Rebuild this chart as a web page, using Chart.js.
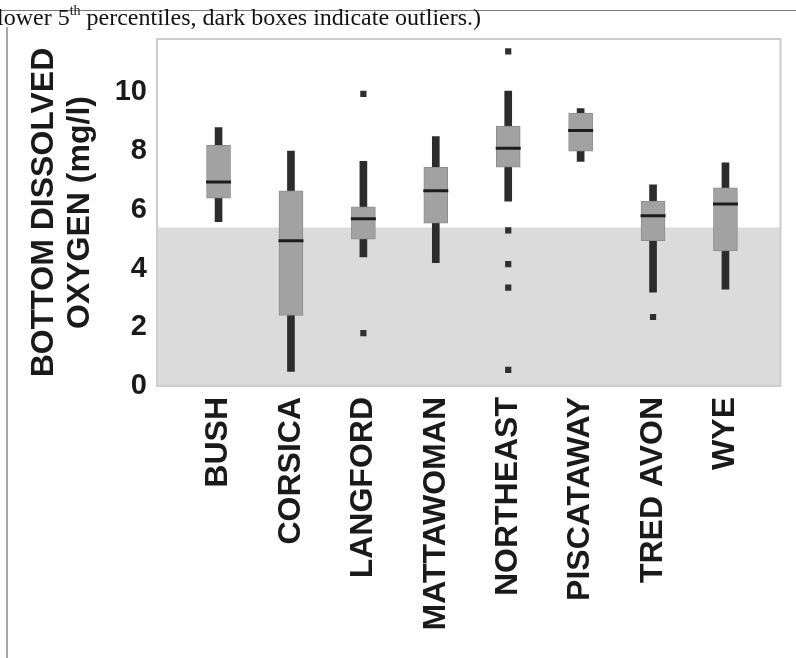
<!DOCTYPE html>
<html>
<head>
<meta charset="utf-8">
<script src="https://cdn.jsdelivr.net/npm/chart.js@4/dist/chart.umd.min.js"></script>
<style>
  html, body { margin: 0; padding: 0; background: #fff; }
  #wrap { position: relative; width: 796px; height: 658px; overflow: hidden; }
  #c { position: absolute; left: 0; top: 0; }
  .rule-h { position: absolute; left: 0; top: 10px; width: 796px; height: 1px; background: #7a7a7a; }
  .rule-v { position: absolute; left: 6px; top: 27px; width: 2px; height: 640px; background: #a8a8a8; }
  .caption { position: absolute; left: -3px; top: 2px; font-family: "Liberation Serif", "Times New Roman", serif;
             font-size: 24px; line-height: 30px; color: #111; white-space: nowrap; }
  .caption sup { font-size: 14px; line-height: 0; position: relative; top: -1px; }
</style>
</head>
<body>
<div id="wrap">
  <canvas id="c" width="796" height="658"></canvas>
  <div class="rule-h"></div>
  <div class="rule-v"></div>
  <div class="caption">lower 5<sup>th</sup> percentiles, dark boxes indicate outliers.)</div>
</div>
<script>
// Bottom dissolved oxygen (mg/l) by tributary
const categories  = ['BUSH', 'CORSICA', 'LANGFORD', 'MATTAWOMAN', 'NORTHEAST', 'PISCATAWAY', 'TRED AVON', 'WYE'];
const whiskerLow  = [5.6, 0.5, 4.4, 4.2, 6.3, 7.65, 3.2, 3.3];
const boxLow      = [6.4, 2.4, 5.0, 5.55, 7.45, 8.0, 4.95, 4.6];
const medians     = [6.95, 4.95, 5.7, 6.65, 8.1, 8.7, 5.8, 6.2];
const boxHigh     = [8.2, 6.65, 6.1, 7.45, 8.85, 9.3, 6.3, 6.75];
const whiskerHigh = [8.8, 8.0, 7.65, 8.5, 10.05, 9.45, 6.85, 7.6];
const outliers    = [[], [], [9.95, 1.8], [], [11.4, 5.3, 4.15, 3.35, 0.55], [], [2.35], []];
const yTicks      = [0, 2, 4, 6, 8, 10];
const lowDOLimit  = 5.4;   // top of the shaded low-oxygen band

const whiskerData = categories.map((_, i) => ({ x: i, y: [whiskerLow[i], whiskerHigh[i]] }));
const boxData     = categories.map((_, i) => ({ x: i, y: [boxLow[i], boxHigh[i]] }));
const medianData  = categories.map((_, i) => ({ x: i, y: medians[i] }));
const outlierData = [];
outliers.forEach((vals, i) => vals.forEach(v => outlierData.push({ x: i, y: v })));

// shaded band below the limit and a light frame round the plot area
const backdrop = {
  id: 'backdrop',
  beforeDatasetsDraw(chart) {
    const { ctx, chartArea: a, scales: { y } } = chart;
    const top = y.getPixelForValue(lowDOLimit);
    ctx.save();
    ctx.fillStyle = '#dbdbdb';
    ctx.fillRect(a.left, top, a.right - a.left, a.bottom - top);
    ctx.strokeStyle = '#cdcdcd';
    ctx.lineWidth = 2;
    ctx.strokeRect(a.left, a.top, a.right - a.left, a.bottom - a.top);
    ctx.restore();
  }
};

new Chart(document.getElementById('c'), {
  data: {
    datasets: [
      { type: 'bar', data: whiskerData, backgroundColor: '#2c2c2c', barThickness: 7, grouped: false, order: 4 },
      { type: 'bar', data: boxData, backgroundColor: '#a2a2a2', borderColor: '#8c8c8c', borderWidth: 1,
        borderSkipped: false, barThickness: 24, grouped: false, order: 3 },
      { type: 'scatter', data: medianData, pointStyle: 'line', pointRadius: 12.5, borderColor: '#1c1c1c',
        pointBorderWidth: 3, borderWidth: 3, order: 2 },
      { type: 'scatter', data: outlierData, pointStyle: 'rect', pointRadius: 4.4, backgroundColor: '#303030',
        borderWidth: 0, pointBorderWidth: 0, order: 1 }
    ]
  },
  options: {
    responsive: false,
    animation: false,
    events: [],
    layout: { padding: { left: 20, right: 13, top: 39, bottom: 0 } },
    plugins: { legend: { display: false }, tooltip: { enabled: false } },
    scales: {
      x: {
        type: 'linear',
        offset: false,
        min: -0.85,
        max: 7.76,
        grid: { display: false, drawTicks: false, offset: false },
        border: { display: false },
        afterFit(s) { s.height = 272; s.paddingLeft = 0; s.paddingRight = 0; },
        afterBuildTicks(s) { s.ticks = categories.map((_, i) => ({ value: i })); },
        ticks: {
          autoSkip: false,
          minRotation: 90,
          maxRotation: 90,
          padding: 11,
          color: '#1a1a1a',
          font: { family: 'Liberation Sans', weight: 'bold', size: 32 },
          callback: v => categories[v]
        }
      },
      y: {
        min: 0,
        max: 11.82,
        grid: { display: false, drawTicks: false },
        border: { display: false },
        afterFit(s) { s.width = 137; },
        afterBuildTicks(s) { s.ticks = yTicks.map(v => ({ value: v })); },
        ticks: {
          padding: 10,
          color: '#1a1a1a',
          font: { family: 'Liberation Sans', weight: 'bold', size: 29 }
        },
        title: {
          display: true,
          text: ['BOTTOM DISSOLVED', 'OXYGEN (mg/l)'],
          color: '#1a1a1a',
          padding: { top: 6, bottom: 0 },
          font: { family: 'Liberation Sans', weight: 'bold', size: 32, lineHeight: 1.12 }
        }
      }
    }
  },
  plugins: [backdrop]
});
</script>
</body>
</html>
